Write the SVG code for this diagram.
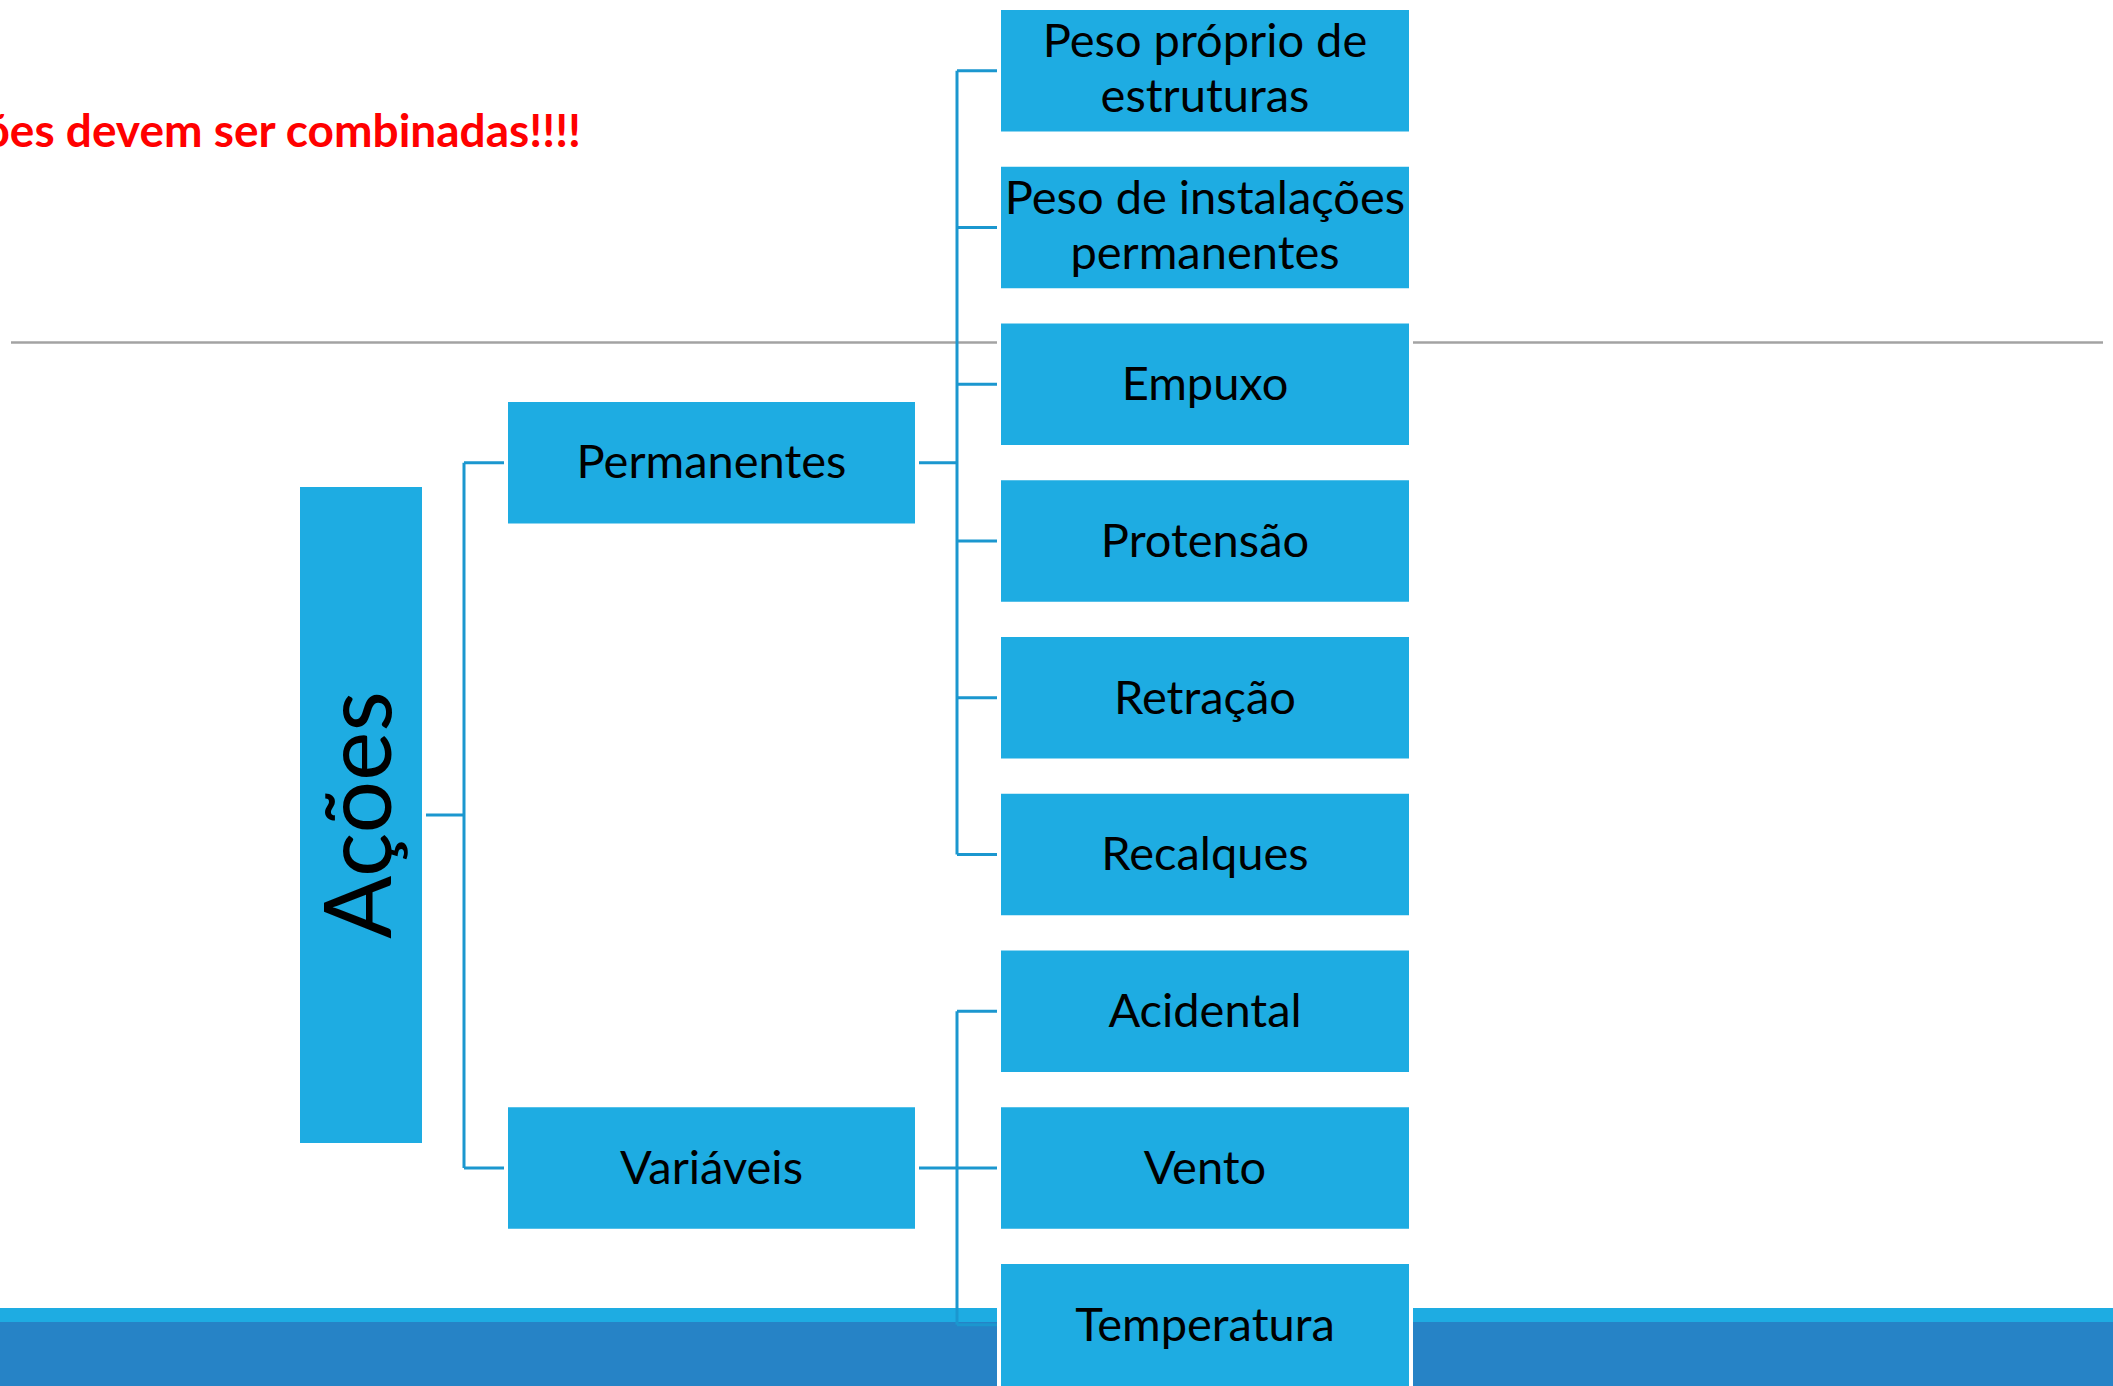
<svg xmlns="http://www.w3.org/2000/svg" width="2113" height="1386" viewBox="0 0 2113 1386">
<style>
.box{fill:#1eace2;stroke:#ffffff;stroke-width:4}
.lbl{font-family:Lato,"Open Sans","Liberation Sans",sans-serif;font-size:47px;fill:#000;text-anchor:middle}
.con{fill:none;stroke:#1b97cf;stroke-width:3}
</style>
<rect x="0" y="0" width="2113" height="1386" fill="#ffffff"/>
<line x1="11" y1="342.5" x2="2103" y2="342.5" stroke="#a3a3a3" stroke-width="2.5"/>
<rect x="0" y="1308" width="2113" height="14" fill="#1eace2"/>
<rect x="0" y="1322" width="2113" height="64" fill="#2683c6"/>
<g id="connectors">
<path class="con" d="M422 815 H464 M464 462.75 V1168 M464 462.75 H508 M464 1168 H508"/>
<path class="con" d="M915 462.75 H957 M957 70.75 V854.5 M957 70.75 H1001 M957 227.5 H1001 M957 384.25 H1001 M957 541 H1001 M957 697.75 H1001 M957 854.5 H1001"/>
<path class="con" d="M915 1168 H1001 M957 1011.25 V1324.75 M957 1011.25 H1001 M957 1324.75 H1001"/>
</g>
<g id="acoes"><rect class="box" x="298" y="485" width="126" height="660"/><text class="lbl" style="font-size:93px" transform="translate(391,815) rotate(-90)">Ações</text></g>
<g id="permanentes"><rect class="box" x="506" y="400" width="411" height="125.5"/><text class="lbl" x="711.5" y="478">Permanentes</text></g>
<g id="variaveis"><rect class="box" x="506" y="1105.25" width="411" height="125.5"/><text class="lbl" x="711.5" y="1184">Variáveis</text></g>
<g id="peso-proprio"><rect class="box" x="999" y="8" width="412" height="125.5"/><text class="lbl" x="1205" y="57">Peso próprio de</text><text class="lbl" x="1205" y="112">estruturas</text></g>
<g id="peso-instalacoes"><rect class="box" x="999" y="164.75" width="412" height="125.5"/><text class="lbl" x="1205" y="213.5">Peso de instalações</text><text class="lbl" x="1205" y="268.5">permanentes</text></g>
<g id="empuxo"><rect class="box" x="999" y="321.5" width="412" height="125.5"/><text class="lbl" x="1205" y="400">Empuxo</text></g>
<g id="protensao"><rect class="box" x="999" y="478.25" width="412" height="125.5"/><text class="lbl" x="1205" y="557">Protensão</text></g>
<g id="retracao"><rect class="box" x="999" y="635" width="412" height="125.5"/><text class="lbl" x="1205" y="713.5">Retração</text></g>
<g id="recalques"><rect class="box" x="999" y="791.75" width="412" height="125.5"/><text class="lbl" x="1205" y="870">Recalques</text></g>
<g id="acidental"><rect class="box" x="999" y="948.5" width="412" height="125.5"/><text class="lbl" x="1205" y="1027">Acidental</text></g>
<g id="vento"><rect class="box" x="999" y="1105.25" width="412" height="125.5"/><text class="lbl" x="1205" y="1184">Vento</text></g>
<g id="temperatura"><rect class="box" x="999" y="1262" width="412" height="132"/><text class="lbl" x="1205" y="1340.5">Temperatura</text></g>
<text x="581" y="147" font-family="Lato,'Open Sans','Liberation Sans',sans-serif" font-weight="bold" font-size="46" fill="#ff0000" text-anchor="end">ões devem ser combinadas!!!!</text>
</svg>
